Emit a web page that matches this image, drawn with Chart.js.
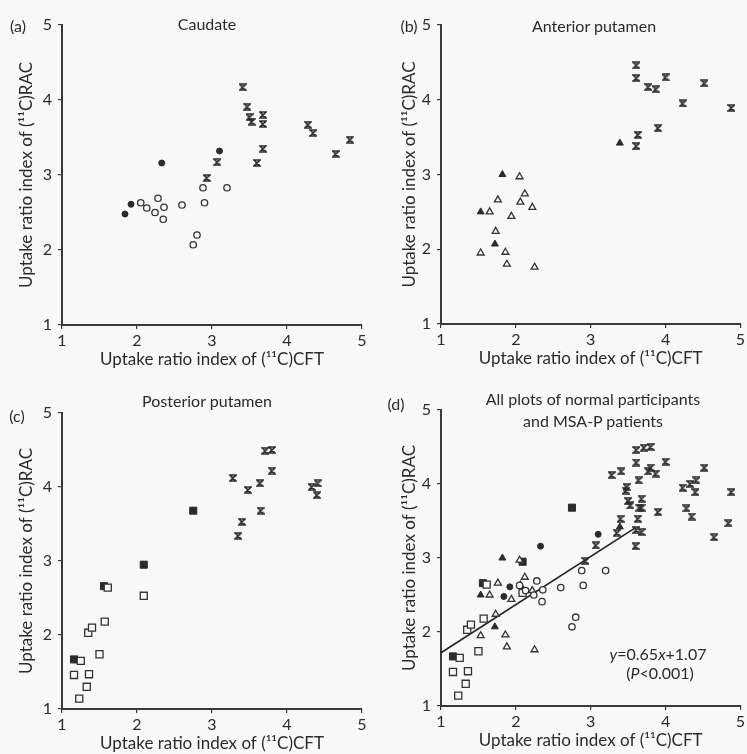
<!DOCTYPE html>
<html>
<head>
<meta charset="utf-8">
<script src="https://cdn.jsdelivr.net/npm/chart.js@4.4.0/dist/chart.umd.min.js"></script>
<style>
  body { margin: 0; background: #f8f8f6; }
  #wrap { position: relative; width: 747px; height: 754px; font-family: Lato, sans-serif; color: #2b2b2b; }
  canvas { position: absolute; }
  .lbl { position: absolute; transform: translate(-50%, -50%); white-space: nowrap; font-size: 16px; }
  .lbl i { font-style: italic; }
</style>
</head>
<body>
<div id="wrap">
  <canvas id="ca" width="374" height="377" style="left:0;top:0"></canvas>
  <canvas id="cb" width="373" height="377" style="left:374px;top:0"></canvas>
  <canvas id="cc" width="374" height="377" style="left:0;top:377px"></canvas>
  <canvas id="cd" width="373" height="377" style="left:374px;top:377px"></canvas>

  <div class="lbl" style="left:18px;top:25px">(a)</div>
  <div class="lbl" style="left:207px;top:23px">Caudate</div>
  <div class="lbl" style="left:409px;top:25px">(b)</div>
  <div class="lbl" style="left:594px;top:25px">Anterior putamen</div>
  <div class="lbl" style="left:17px;top:415px">(c)</div>
  <div class="lbl" style="left:207px;top:400px">Posterior putamen</div>
  <div class="lbl" style="left:396px;top:403px">(d)</div>
  <div class="lbl" style="left:593px;top:398px">All plots of normal participants</div>
  <div class="lbl" style="left:593px;top:420px">and MSA-P patients</div>
  <div class="lbl" style="left:658px;top:653px"><i>y</i>=0.65<i>x</i>+1.07</div>
  <div class="lbl" style="left:660px;top:672px">(<i>P</i>&lt;0.001)</div>
</div>
<script>
// (a) caudate
const caudOpenX = [2.05, 2.13, 2.24, 2.28, 2.36, 2.35, 2.6, 2.88, 2.9, 3.2, 2.75, 2.8];
const caudOpenY = [2.63, 2.56, 2.5, 2.69, 2.57, 2.41, 2.6, 2.83, 2.63, 2.83, 2.07, 2.2];
const caudFillX = [1.84, 1.92, 2.33, 3.1];
const caudFillY = [2.48, 2.61, 3.16, 3.32];
const caudMsaX = [3.41, 3.47, 3.5, 3.53, 3.68, 3.68, 4.28, 4.35, 4.84, 4.65, 3.68, 3.6, 3.07, 2.93];
const caudMsaY = [4.17, 3.91, 3.77, 3.71, 3.8, 3.68, 3.67, 3.56, 3.47, 3.28, 3.35, 3.16, 3.17, 2.96];

// (b) anterior putamen
const antOpenX = [2.05, 2.12, 2.06, 2.22, 1.76, 1.65, 1.94, 1.73, 1.53, 1.86, 1.88, 2.25];
const antOpenY = [2.97, 2.74, 2.63, 2.56, 2.66, 2.5, 2.44, 2.24, 1.95, 1.96, 1.8, 1.76];
const antFillX = [1.82, 1.53, 1.72, 3.39];
const antFillY = [3.0, 2.5, 2.07, 3.42];
const antMsaX = [3.61, 3.61, 3.77, 3.87, 4.0, 4.23, 4.52, 4.88, 3.9, 3.63, 3.61];
const antMsaY = [4.46, 4.29, 4.17, 4.14, 4.3, 3.95, 4.22, 3.89, 3.62, 3.53, 3.38];

// (c) posterior putamen
const postOpenX = [2.09, 1.61, 1.57, 1.35, 1.4, 1.5, 1.25, 1.16, 1.36, 1.33, 1.23];
const postOpenY = [2.53, 2.64, 2.18, 2.03, 2.1, 1.74, 1.65, 1.46, 1.47, 1.3, 1.14];
const postFillX = [2.75, 2.09, 1.56, 1.16];
const postFillY = [3.68, 2.95, 2.66, 1.67];
const postMsaX = [3.28, 3.48, 3.64, 3.71, 3.8, 3.8, 3.65, 3.4, 3.35, 4.33, 4.41, 4.4];
const postMsaY = [4.12, 3.96, 4.05, 4.49, 4.5, 4.22, 3.68, 3.53, 3.34, 4.0, 4.05, 3.89];

// (d) regression line y = 0.65x + 1.07
const fitX = [1, 3.6];
const fitY = [1.72, 3.41];

const axisTicks = [1, 2, 3, 4, 5];

const ink = '#2b2b2b';
const bg = '#f8f8f6';

function pts(xs, ys) {
  return xs.map((x, i) => ({ x: x, y: ys[i] }));
}

// hourglass marker used for MSA-P patients
function hourglass(size) {
  const c = document.createElement('canvas');
  c.width = size; c.height = size;
  const g = c.getContext('2d');
  g.strokeStyle = ink;
  g.lineWidth = 1.7;
  g.beginPath();
  g.moveTo(1, 1); g.lineTo(size - 1, 1); g.lineTo(1, size - 1); g.lineTo(size - 1, size - 1);
  g.closePath();
  g.stroke();
  return c;
}
const msaMark = hourglass(8);

function openSet(data, shape, r) {
  return { data: data, pointStyle: shape, pointRadius: r, backgroundColor: bg, borderColor: '#333', borderWidth: 1.3 };
}
function fillSet(data, shape, r) {
  return { data: data, pointStyle: shape, pointRadius: r, backgroundColor: ink, borderColor: ink, borderWidth: 1 };
}
function msaSet(data) {
  return { data: data, pointStyle: msaMark, pointRadius: 4 };
}

function axes(yWidth) {
  const tickFont = { family: 'Lato', size: 16 };
  const titleFont = { family: 'Lato', size: 17 };
  const base = {
    type: 'linear', min: 1, max: 5,
    afterBuildTicks: s => { s.ticks = axisTicks.map(v => ({ value: v })); },
    grid: { drawOnChartArea: false, drawTicks: true, tickLength: 4, color: '#3a3a3a', lineWidth: 1.2 },
    border: { display: true, color: '#3a3a3a', width: 2 }
  };
  return {
    x: Object.assign({}, base, {
      ticks: { color: ink, font: tickFont, padding: 2, maxRotation: 0 },
      title: { display: true, text: 'Uptake ratio index of (\u00B9\u00B9C)CFT', color: ink, font: titleFont, padding: { top: 0, bottom: 0 } },
      afterFit: s => { s.height = 45; }
    }),
    y: Object.assign({}, base, {
      ticks: { color: ink, font: tickFont, padding: 6 },
      title: { display: true, text: 'Uptake ratio index of (\u00B9\u00B9C)RAC', color: ink, font: titleFont, padding: { top: 4, bottom: 0 } },
      afterFit: s => { s.width = yWidth; }
    })
  };
}

function makeChart(id, datasets, pad, yWidth) {
  new Chart(document.getElementById(id), {
    type: 'scatter',
    data: { datasets: datasets },
    options: {
      responsive: false,
      animation: false,
      layout: { padding: pad },
      plugins: { legend: { display: false }, tooltip: { enabled: false } },
      scales: axes(yWidth),
      clip: false
    }
  });
}

makeChart('ca', [
  openSet(pts(caudOpenX, caudOpenY), 'circle', 3.2),
  fillSet(pts(caudFillX, caudFillY), 'circle', 3),
  msaSet(pts(caudMsaX, caudMsaY))
], { left: 12, right: 12, top: 25, bottom: 7 }, 50);

makeChart('cb', [
  openSet(pts(antOpenX, antOpenY), 'triangle', 4),
  fillSet(pts(antFillX, antFillY), 'triangle', 4),
  msaSet(pts(antMsaX, antMsaY))
], { left: 21, right: 5, top: 25, bottom: 8 }, 46);

makeChart('cc', [
  openSet(pts(postOpenX, postOpenY), 'rect', 5),
  fillSet(pts(postFillX, postFillY), 'rect', 5),
  msaSet(pts(postMsaX, postMsaY))
], { left: 12, right: 12, top: 36, bottom: 0 }, 50);

makeChart('cd', [
  openSet(pts(caudOpenX, caudOpenY), 'circle', 3.2),
  fillSet(pts(caudFillX, caudFillY), 'circle', 3),
  openSet(pts(antOpenX, antOpenY), 'triangle', 4),
  fillSet(pts(antFillX, antFillY), 'triangle', 4),
  openSet(pts(postOpenX, postOpenY), 'rect', 5),
  fillSet(pts(postFillX, postFillY), 'rect', 5),
  msaSet(pts(caudMsaX, caudMsaY)),
  msaSet(pts(antMsaX, antMsaY)),
  msaSet(pts(postMsaX, postMsaY)),
  { data: pts(fitX, fitY), showLine: true, pointRadius: 0, borderColor: '#222', borderWidth: 1.6 }
], { left: 21, right: 5, top: 33, bottom: 3 }, 46);
</script>
</body>
</html>
